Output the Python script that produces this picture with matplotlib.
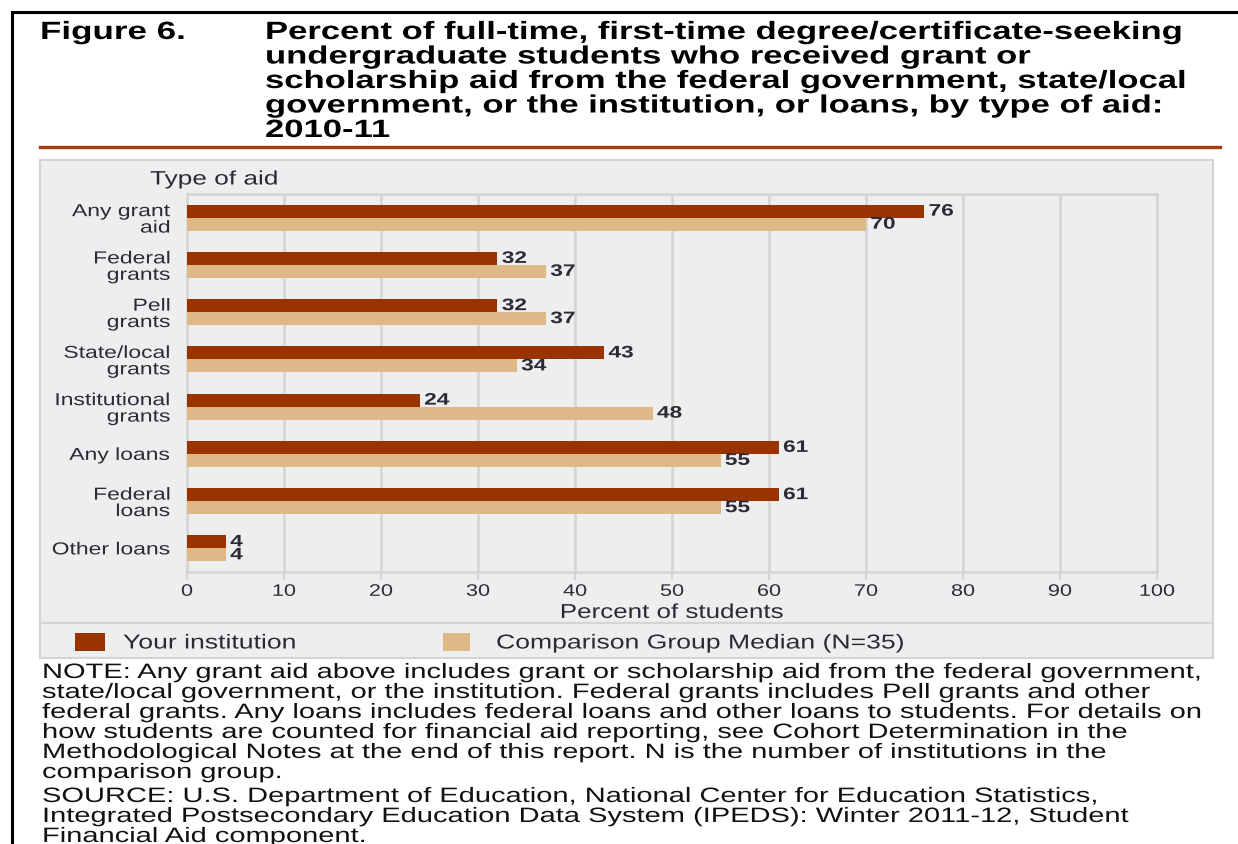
import numpy as np
import matplotlib
matplotlib.use("Agg")
import matplotlib.pyplot as plt
import matplotlib.patheffects as pe
from matplotlib.patches import Rectangle
from matplotlib.lines import Line2D
from matplotlib.transforms import Affine2D

# data
categories = ["Any grant\naid", "Federal\ngrants", "Pell\ngrants", "State/local\ngrants",
              "Institutional\ngrants", "Any loans", "Federal\nloans", "Other loans"]
your_institution = [76, 32, 32, 43, 24, 61, 61, 4]
comparison_median = [70, 37, 37, 34, 48, 55, 55, 4]
x_ticks = [0, 10, 20, 30, 40, 50, 60, 70, 80, 90, 100]
legend_labels = ["Your institution", "Comparison Group Median (N=35)"]

title_lines = ["Percent of full-time, first-time degree/certificate-seeking",
               "undergraduate students who received grant or",
               "scholarship aid from the federal government, state/local",
               "government, or the institution, or loans, by type of aid:",
               "2010-11"]
note_lines = ["NOTE: Any grant aid above includes grant or scholarship aid from the federal government,",
              "state/local government, or the institution. Federal grants includes Pell grants and other",
              "federal grants. Any loans includes federal loans and other loans to students. For details on",
              "how students are counted for financial aid reporting, see Cohort Determination in the",
              "Methodological Notes at the end of this report. N is the number of institutions in the",
              "comparison group."]
source_lines = ["SOURCE: U.S. Department of Education, National Center for Education Statistics,",
                "Integrated Postsecondary Education Data System (IPEDS): Winter 2011-12, Student",
                "Financial Aid component."]

DARK = "#993300"
LIGHT = "#DEB887"
GRID = "#D4D4D4"
PANEL = "#EEEEEE"
TXT = "#2b2b38"

W, H = 1238, 844


def fx(px):
    return px / W


def fy(py):
    return 1 - py / H


class HStretch(pe.AbstractPathEffect):
    # the source figure is a horizontally stretched scan, so widen the glyphs
    def __init__(self, sx, align="left"):
        super().__init__()
        self.sx = sx
        self.align = align

    def draw_path(self, renderer, gc, tpath, affine, rgbFace=None):
        if self.align == "left":
            x0 = affine.get_matrix()[0, 2]
        else:
            ext = tpath.get_extents(affine)
            x0 = ext.x1 if self.align == "right" else (ext.x0 + ext.x1) / 2
        stretch = Affine2D().translate(-x0, 0).scale(self.sx, 1).translate(x0, 0)
        renderer.draw_path(gc, tpath, affine + stretch, rgbFace)


def widen(t, sx):
    t.set_path_effects([HStretch(sx, t.get_horizontalalignment())])
    return t


plt.rcParams['font.family'] = ['Liberation Sans', 'DejaVu Sans']

fig = plt.figure(figsize=(W / 100, H / 100), dpi=100)

# outer frame (top and left only)
fig.add_artist(Line2D([fx(12), 1], [fy(12), fy(12)], color="black", lw=2.2))
fig.add_artist(Line2D([fx(12), fx(12)], [fy(12), 0], color="black", lw=2.2))

# heading
widen(fig.text(fx(40), fy(39), "Figure 6.", fontsize=18, fontweight="bold", va="baseline"), 1.4)
for i, line in enumerate(title_lines):
    widen(fig.text(fx(265), fy(39 + 24.5 * i), line, fontsize=18, fontweight="bold",
                   va="baseline"), 1.385)

# rule under the heading
fig.add_artist(Line2D([fx(40), fx(1220)], [fy(147), fy(147)], color="#A63A10", lw=2.4))

# grey panels (chart + legend strip)
fig.add_artist(Rectangle((fx(40), fy(623)), fx(1213) - fx(40), (623 - 160) / H,
                         facecolor=PANEL, edgecolor=GRID, lw=1.5, zorder=-2))
fig.add_artist(Rectangle((fx(40), fy(658)), fx(1213) - fx(40), (658 - 623) / H,
                         facecolor=PANEL, edgecolor=GRID, lw=1.5, zorder=-2))

widen(fig.text(fx(150), fy(180), "Type of aid", fontsize=14, color=TXT, va="center"), 1.35)

# chart
ax = fig.add_axes([fx(187), fy(572), fx(1157) - fx(187), (572 - 194) / H])
ax.set_facecolor("none")

y = np.arange(len(categories))
bh = 0.275
ax.barh(y - bh / 2, your_institution, height=bh, color=DARK, zorder=3)
ax.barh(y + bh / 2, comparison_median, height=bh, color=LIGHT, zorder=3)

for yy, v in zip(y, your_institution):
    widen(ax.text(v + 0.45, yy - bh / 2, str(v), va="center", ha="left", fontsize=12,
                  fontweight="bold", color=TXT, zorder=4), 1.36)
for yy, v in zip(y, comparison_median):
    widen(ax.text(v + 0.45, yy + bh / 2, str(v), va="center", ha="left", fontsize=12,
                  fontweight="bold", color=TXT, zorder=4), 1.36)

ax.set_xlim(0, 100)
ax.set_ylim(len(categories) - 0.5, -0.5)
ax.set_xticks(x_ticks)
ax.set_yticks(y, categories)

ax.grid(axis="x", color=GRID, lw=1.8, zorder=0)
ax.set_axisbelow(True)
for s in ax.spines.values():
    s.set_color(GRID)
    s.set_linewidth(1.8)
ax.tick_params(axis="x", length=6, width=1.5, color=GRID, labelsize=12, labelcolor=TXT, pad=2.5)
ax.tick_params(axis="y", length=0, pad=12, labelsize=12.5, labelcolor=TXT)
for lbl in ax.get_yticklabels():
    lbl.set_linespacing(1.12)
    widen(lbl, 1.32)
for lbl in ax.get_xticklabels():
    widen(lbl, 1.3)
widen(ax.set_xlabel("Percent of students", fontsize=14.5, color=TXT, labelpad=3), 1.29)

# legend strip
fig.add_artist(Rectangle((fx(75), fy(651)), fx(105) - fx(75), 18 / H, facecolor=DARK, edgecolor="none"))
widen(fig.text(fx(123), fy(643), legend_labels[0], fontsize=14.5, color=TXT, va="center"), 1.32)
fig.add_artist(Rectangle((fx(443), fy(651)), fx(470) - fx(443), 18 / H, facecolor=LIGHT, edgecolor="none"))
widen(fig.text(fx(496), fy(643), legend_labels[1], fontsize=14.5, color=TXT, va="center"), 1.32)

# notes
for i, line in enumerate(note_lines):
    widen(fig.text(fx(42), fy(678 + 20 * i), line, fontsize=15, color="#111111", va="baseline"), 1.395)
for i, line in enumerate(source_lines):
    widen(fig.text(fx(42), fy(802 + 20 * i), line, fontsize=15, color="#111111", va="baseline"), 1.395)

fig.savefig("out.png", dpi=100)
